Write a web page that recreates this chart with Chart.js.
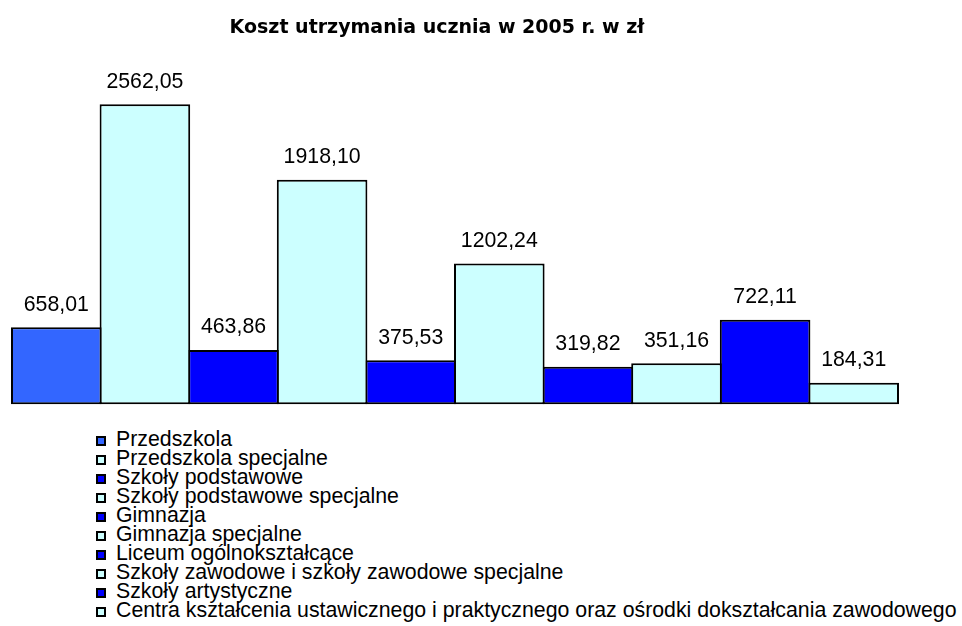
<!DOCTYPE html>
<html lang="pl">
<head>
<meta charset="utf-8">
<title>Koszt utrzymania ucznia w 2005 r.</title>
<script src="https://cdn.jsdelivr.net/npm/chart.js@4/dist/chart.umd.min.js"></script>
<style>
    html, body { margin: 0; padding: 0; background: #fff; }
    #wrap { position: relative; width: 962px; height: 626px; overflow: hidden; }
    #title {
        position: absolute; left: 0; top: 16px; width: 874px;
        text-align: center; font: bold 19px "DejaVu Sans", Verdana, sans-serif;
        line-height: 20px; color: #000;
    }
    #costChart { position: absolute; left: 0; top: 0; }
    #legend {
        position: absolute; left: 96px; top: 430px;
        font-family: "Liberation Sans", Arial, sans-serif; font-size: 21.3px; color: #000;
    }
    .legend-row { display: flex; align-items: flex-start; height: 19px; line-height: 19px; white-space: nowrap; }
    .legend-box { width: 10px; height: 10px; box-sizing: border-box; border: 2px solid #000; margin-top: 6px; margin-right: 10px; }
</style>
</head>
<body>
<div id="wrap">
    <canvas id="costChart" width="962" height="420"></canvas>
    <div id="title">Koszt utrzymania ucznia w 2005 r. w zł</div>
    <div id="legend"></div>
</div>
<script>
// Typy szkół (each one is its own series, like in the original legend)
const schoolTypes = [
    'Przedszkola',
    'Przedszkola specjalne',
    'Szkoły podstawowe',
    'Szkoły podstawowe specjalne',
    'Gimnazja',
    'Gimnazja specjalne',
    'Liceum ogólnokształcące',
    'Szkoły zawodowe i szkoły zawodowe specjalne',
    'Szkoły artystyczne',
    'Centra kształcenia ustawicznego i praktycznego oraz ośrodki dokształcania zawodowego'
];

// Koszt w zł
const costs = [658.01, 2562.05, 463.86, 1918.10, 375.53, 1202.24, 319.82, 351.16, 722.11, 184.31];

const barColors = [
    '#3366FF', '#CCFFFF', '#0000FF', '#CCFFFF', '#0000FF',
    '#CCFFFF', '#0000FF', '#CCFFFF', '#0000FF', '#CCFFFF'
];

function formatPL(v) {
    return v.toFixed(2).replace('.', ',');
}

// value labels above the bars
const valueLabels = {
    id: 'valueLabels',
    afterDatasetsDraw(chart) {
        const ctx = chart.ctx;
        ctx.save();
        ctx.font = '21.3px "Liberation Sans", Arial, sans-serif';
        ctx.fillStyle = '#000';
        ctx.textAlign = 'center';
        ctx.textBaseline = 'alphabetic';
        chart.data.datasets.forEach((ds, i) => {
            const bar = chart.getDatasetMeta(i).data[0];
            ctx.fillText(formatPL(ds.data[0]), bar.x, bar.y - 16.5);
        });
        ctx.restore();
    }
};

const ctx = document.getElementById('costChart').getContext('2d');
const myChart = new Chart(ctx, {
    type: 'bar',
    data: {
        labels: [''],
        datasets: schoolTypes.map((name, i) => ({
            label: name,
            data: [costs[i]],
            backgroundColor: barColors[i],
            borderColor: '#000',
            borderWidth: 2,
            borderSkipped: false,
            clip: false,
            categoryPercentage: 1.0,
            // bars overlap by 2px so neighbouring borders share one line
            barPercentage: 90.6 / 88.6
        }))
    },
    options: {
        responsive: false,
        animation: false,
        devicePixelRatio: 1,
        layout: { padding: { left: 12, right: 64, top: 76.4, bottom: 15.7 } },
        scales: {
            x: { display: false },
            y: { display: false, min: 0, max: 2800 }
        },
        plugins: {
            legend: { display: false },
            title: { display: false },
            tooltip: { enabled: false }
        }
    },
    plugins: [valueLabels]
});

// legend as HTML, one entry per line
const legendDiv = document.getElementById('legend');
myChart.data.datasets.forEach(ds => {
    const row = document.createElement('div');
    row.className = 'legend-row';
    const box = document.createElement('span');
    box.className = 'legend-box';
    box.style.background = ds.backgroundColor;
    const txt = document.createElement('span');
    txt.textContent = ds.label;
    row.appendChild(box);
    row.appendChild(txt);
    legendDiv.appendChild(row);
});
</script>
</body>
</html>
